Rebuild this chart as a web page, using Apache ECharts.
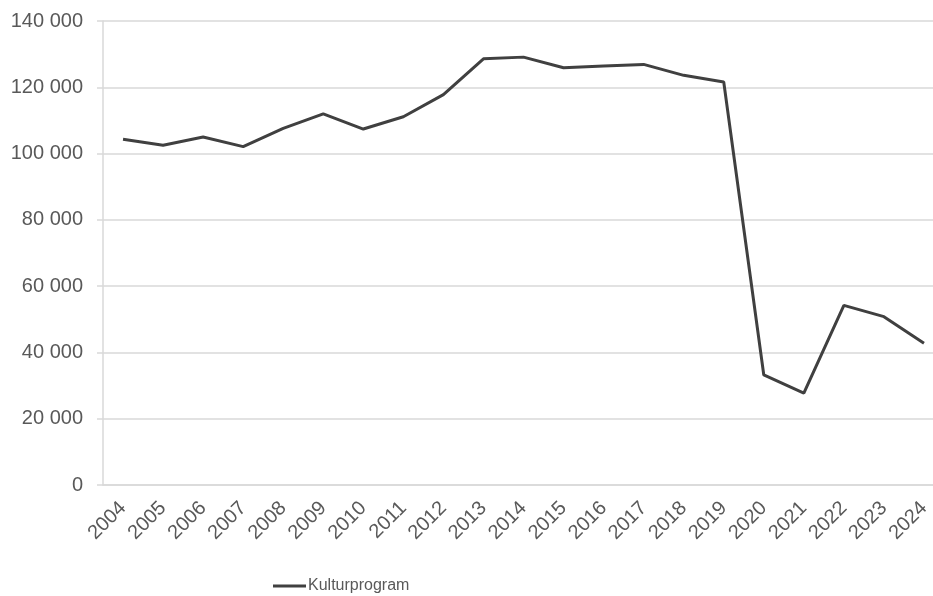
<!DOCTYPE html>
<html>
<head>
<meta charset="utf-8">
<script src="https://cdn.jsdelivr.net/npm/echarts@6/dist/echarts.min.js"></script>
<style>
  html, body { margin: 0; padding: 0; background: #fff; overflow: hidden; }
  /* plot runs a little past the right edge, as in the original */
  #main { width: 944px; height: 596px; }
</style>
</head>
<body>
<div id="main"></div>
<script>
// data
var years = ['2004', '2005', '2006', '2007', '2008', '2009', '2010', '2011', '2012', '2013',
  '2014', '2015', '2016', '2017', '2018', '2019', '2020', '2021', '2022', '2023', '2024']
var kulturprogram = [104300, 102500, 105000, 102100, 107600, 112000, 107400, 111100, 117800, 128600,
  129100, 125900, 126400, 126900, 123600, 121600, 33200, 27700, 54200, 50800, 42800]
var seriesName = 'Kulturprogram'

var fontFamily = '"Liberation Sans", Arial, sans-serif'
var textColor = '#595959'
var gridColor = '#d9d9d9'

var chart = echarts.init(document.getElementById('main'), null, { renderer: 'canvas' })

// tall som "140 000"
function fmt(v) {
  return String(v).replace(/\B(?=(\d{3})+(?!\d))/g, ' ')
}

var option = {
  animation: false,
  backgroundColor: '#ffffff',
  grid: {
    left: 103,
    top: 21,
    right: 0,
    bottom: 111,
    containLabel: false
  },
  legend: {
    left: 273,
    top: 578,
    padding: 0,
    itemWidth: 33,
    itemHeight: 3,
    itemGap: 4,
    icon: 'rect',
    textStyle: { color: textColor, fontSize: 16, fontFamily: fontFamily, padding: [0, 0, 0, -3] },
    data: [seriesName]
  },
  xAxis: {
    type: 'category',
    data: years,
    boundaryGap: true,
    axisLine: { lineStyle: { color: gridColor, width: 1.5 } },
    axisTick: { show: false },
    axisLabel: {
      rotate: 45,
      margin: 20,
      color: textColor,
      fontSize: 20,
      fontFamily: fontFamily
    }
  },
  yAxis: {
    type: 'value',
    min: 0,
    max: 140000,
    interval: 20000,
    axisLine: { show: true, lineStyle: { color: gridColor, width: 1.5 } },
    axisTick: { show: true, length: 6, lineStyle: { color: gridColor, width: 1.5 } },
    splitLine: { lineStyle: { color: gridColor, width: 1.5 } },
    axisLabel: {
      margin: 20,
      color: textColor,
      fontSize: 20,
      fontFamily: fontFamily,
      formatter: fmt
    }
  },
  series: [{
    name: seriesName,
    type: 'line',
    data: kulturprogram,
    symbol: 'none',
    lineStyle: { color: '#404040', width: 3 },
    itemStyle: { color: '#404040' }
  }]
}

chart.setOption(option)
</script>
</body>
</html>
